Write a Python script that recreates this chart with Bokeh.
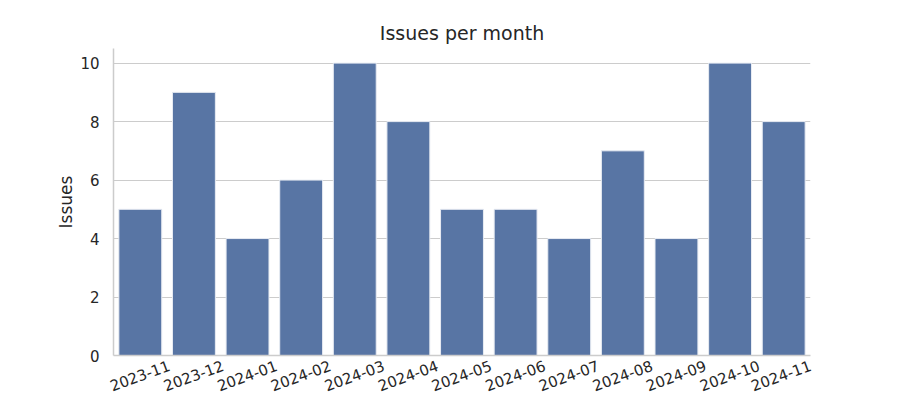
import math
from bokeh.plotting import figure
from bokeh.models import Range1d, ColumnDataSource, FixedTicker
from bokeh.embed import file_html
from bokeh.resources import INLINE

months = ["2023-11", "2023-12", "2024-01", "2024-02", "2024-03", "2024-04", "2024-05",
          "2024-06", "2024-07", "2024-08", "2024-09", "2024-10", "2024-11"]
issues = [5, 9, 4, 6, 10, 8, 5, 5, 4, 7, 4, 10, 8]
y_ticks = [0, 2, 4, 6, 8, 10]

n = len(months)
pos = list(range(n))  # category positions, as seaborn places them
src = ColumnDataSource(dict(pos=pos, month=months, issues=issues))

p = figure(width=900, height=400, output_backend="svg", toolbar_location=None,
           x_range=Range1d(-0.5, n - 0.5), y_range=Range1d(0, 10.5),
           min_border_left=113, min_border_right=90, min_border_top=48, min_border_bottom=45,
           title="Issues per month")

p.vbar(x="pos", top="issues", width=0.8, source=src,
       fill_color="#5875a4", line_color="#e8ecf3", line_width=1)

text_color = "#262626"
font = "DejaVu Sans"

p.title.align = "center"
p.title.text_font = font
p.title.text_font_size = "19px"
p.title.text_font_style = "normal"
p.title.text_color = text_color
p.title.standoff = 9

p.outline_line_color = None
p.background_fill_color = "white"
p.border_fill_color = "white"

p.xgrid.grid_line_color = None
p.ygrid.grid_line_color = "#cccccc"
p.ygrid.grid_line_width = 1

# bokeh end-anchors rotated labels, so shift the label ticks by half a label
# width to centre each rotated month label under its bar
shift = 0.54
tick_pos = [min(i + shift, n - 0.501) for i in pos]
xax = p.xaxis[0]
xax.ticker = FixedTicker(ticks=tick_pos)
xax.major_label_overrides = {t: m for t, m in zip(tick_pos, months)}

p.yaxis.ticker = y_ticks
p.yaxis.axis_label = "Issues"
p.yaxis.axis_label_text_font = font
p.yaxis.axis_label_text_font_size = "17px"
p.yaxis.axis_label_text_font_style = "normal"
p.yaxis.axis_label_text_color = text_color
p.yaxis.axis_label_standoff = 1

for ax in (xax, p.yaxis[0]):
    ax.axis_line_color = "#cccccc"
    ax.axis_line_width = 1.5
    ax.major_tick_line_color = None
    ax.minor_tick_line_color = None
    ax.major_tick_out = 0
    ax.major_tick_in = 0
    ax.major_label_text_font = font
    ax.major_label_text_font_size = "15px"
    ax.major_label_text_color = text_color

p.yaxis.major_label_standoff = 14
xax.major_label_orientation = math.radians(20)
xax.major_label_standoff = 9

open("out.html", "w").write(file_html(p, INLINE))
